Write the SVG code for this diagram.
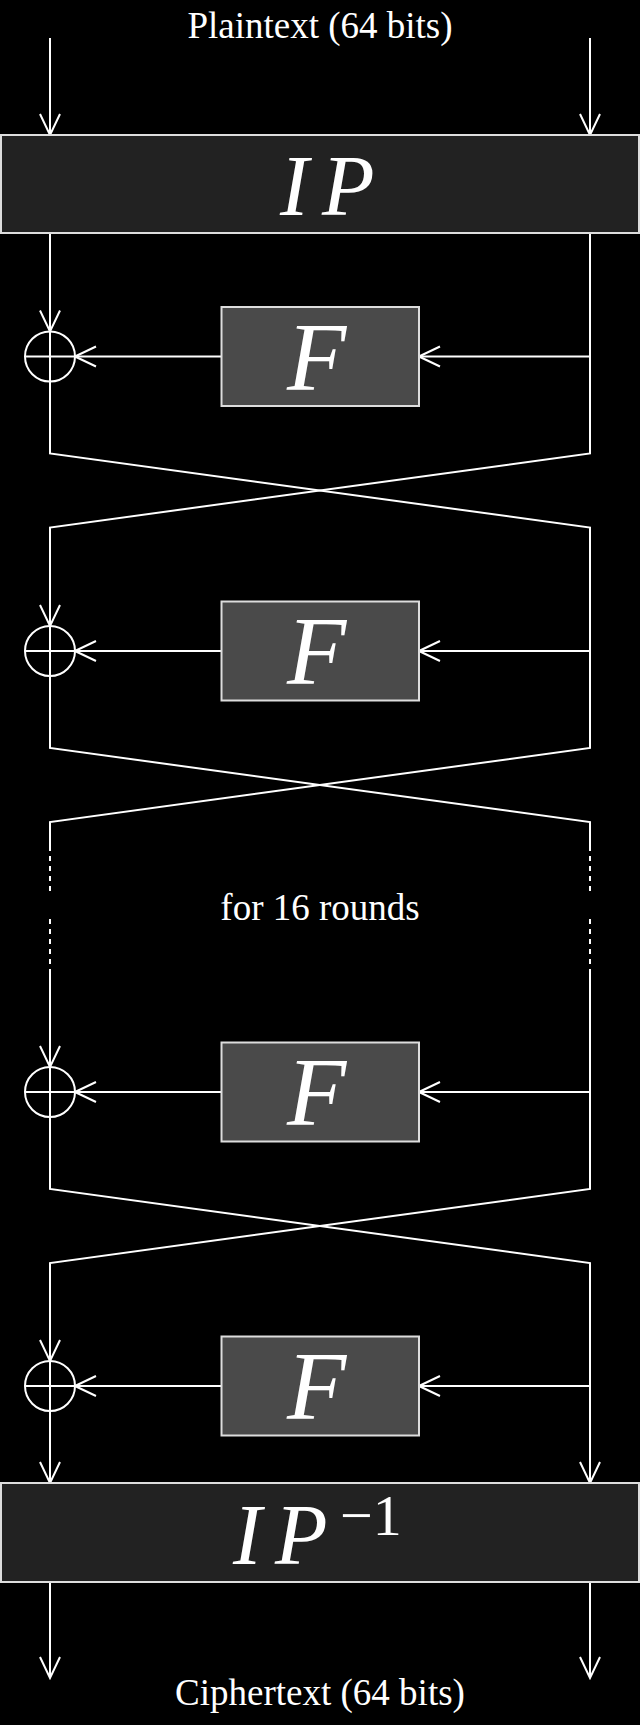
<svg xmlns="http://www.w3.org/2000/svg" width="640" height="1725" viewBox="0 0 640 1725">
<style>
.ln{fill:none;stroke:#fff;stroke-width:2}
.ar{marker-end:url(#ah)}
.dash{fill:none;stroke:#fff;stroke-width:2;stroke-dasharray:5 5}
.big{fill:#222;stroke:#ddd;stroke-width:2}
.fb{fill:#4a4a4a;stroke:#ddd;stroke-width:2}
.xor{fill:none;stroke:#fff;stroke-width:2}
.lbl{font-family:"Liberation Serif","Times New Roman",serif;font-size:37px;fill:#fff;text-anchor:middle}
.mi{font-family:"Liberation Serif","Times New Roman",serif;font-style:italic;fill:#fff}
.sup{font-family:"Liberation Serif","Times New Roman",serif;fill:#fff;font-size:58px}
</style>
<defs>
<marker id="ah" viewBox="-24 -12 26 24" refX="0" refY="0" markerWidth="26" markerHeight="24" markerUnits="userSpaceOnUse" orient="auto">
<path d="M-21,-10 L0,0 L-21,10" fill="none" stroke="#fff" stroke-width="2"/>
</marker>
</defs>
<rect width="640" height="1725" fill="#000"/>
<g id="connectors">
<path class="ln ar" d="M50,38 V135"/>
<path class="ln ar" d="M590,38 V135"/>
<path class="ln ar" d="M50,233 V331.5"/>
<path class="ln ar" d="M590,356.5 H419"/>
<path class="ln ar" d="M221.5,356.5 H75"/>
<path class="ln" d="M50,381.5 V453.5 L590,527.5 V748 L50,822 V851"/>
<path class="ln ar" d="M590,233 V453.5 L50,527.5 V626"/>
<path class="ln ar" d="M590,651 H419"/>
<path class="ln ar" d="M221.5,651 H75"/>
<path class="ln" d="M50,676 V748 L590,822 V851"/>
<path class="dash" d="M50,856 V891 M50,919 V964 M590,856 V891 M590,919 V964"/>
<path class="ln ar" d="M50,969 V1067"/>
<path class="ln ar" d="M590,1092 H419"/>
<path class="ln ar" d="M221.5,1092 H75"/>
<path class="ln ar" d="M590,969 V1189 L50,1263 V1361"/>
<path class="ln ar" d="M50,1117 V1189 L590,1263 V1483"/>
<path class="ln ar" d="M590,1386 H419"/>
<path class="ln ar" d="M221.5,1386 H75"/>
<path class="ln ar" d="M50,1411 V1483"/>
<path class="ln ar" d="M50,1582 V1678"/>
<path class="ln ar" d="M590,1582 V1678"/>
</g>
<g id="plaintext"><text class="lbl" x="320" y="37.5">Plaintext (64 bits)</text></g>
<g id="ip">
<rect class="big" x="1" y="135" width="638" height="98"/>
<text class="mi" font-size="86" y="215"><tspan x="280">I</tspan><tspan x="322">P</tspan></text>
</g>
<g id="f1"><rect class="fb" x="221.5" y="307" width="197.5" height="99"/><text class="mi" font-size="97" x="287" y="389.5">F</text></g>
<g id="xor1"><circle class="xor" cx="50" cy="356.5" r="25"/><path class="xor" d="M50,331.5 V381.5 M25,356.5 H75"/></g>
<g id="f2"><rect class="fb" x="221.5" y="601.5" width="197.5" height="99"/><text class="mi" font-size="97" x="287" y="684">F</text></g>
<g id="xor2"><circle class="xor" cx="50" cy="651" r="25"/><path class="xor" d="M50,626 V676 M25,651 H75"/></g>
<g id="rounds"><text class="lbl" x="320" y="920">for 16 rounds</text></g>
<g id="f3"><rect class="fb" x="221.5" y="1042.5" width="197.5" height="99"/><text class="mi" font-size="97" x="287" y="1125">F</text></g>
<g id="xor3"><circle class="xor" cx="50" cy="1092" r="25"/><path class="xor" d="M50,1067 V1117 M25,1092 H75"/></g>
<g id="f4"><rect class="fb" x="221.5" y="1336.5" width="197.5" height="99"/><text class="mi" font-size="97" x="287" y="1419">F</text></g>
<g id="xor4"><circle class="xor" cx="50" cy="1386" r="25"/><path class="xor" d="M50,1361 V1411 M25,1386 H75"/></g>
<g id="ipinv">
<rect class="big" x="1" y="1483" width="638" height="99"/>
<text class="mi" font-size="86" y="1563.5"><tspan x="233">I</tspan><tspan x="275">P</tspan></text>
<text class="sup" x="340" y="1535">−1</text>
</g>
<g id="ciphertext"><text class="lbl" x="320" y="1705">Ciphertext (64 bits)</text></g>
</svg>
